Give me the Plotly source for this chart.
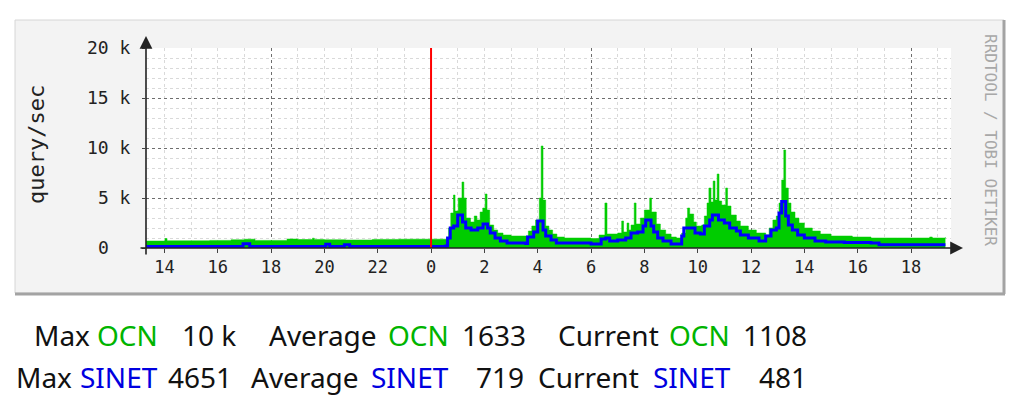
import plotly.graph_objects as go

# ---------------- data (hours relative to midnight; previous day negative) ----------------
ocn_hours = [-10.69, -9.98, -9.90, -8.30, -7.50, -7.00, -6.60, -5.40, -5.00, -4.45,
             -4.38, -4.00, -3.20, -2.20, -1.20, 0.00, 0.60, 0.66, 0.74, 0.84,
             0.90, 1.02, 1.16, 1.23, 1.32, 1.48, 1.62, 1.72, 1.84, 1.94,
             2.03, 2.10, 2.20, 2.35, 2.50, 2.70, 3.00, 3.55, 3.65, 3.78,
             3.92, 4.06, 4.13, 4.20, 4.30, 4.42, 4.56, 4.72, 5.00, 6.00,
             6.30, 6.52, 6.60, 7.00, 7.15, 7.22, 7.35, 7.42, 7.50, 7.62,
             7.69, 7.85, 8.00, 8.20, 8.27, 8.45, 8.60, 8.80, 9.00, 9.20,
             9.40, 9.55, 9.62, 9.70, 9.85, 9.95, 10.15, 10.25, 10.35, 10.42,
             10.50, 10.58, 10.65, 10.73, 10.80, 10.90, 11.05, 11.12, 11.25, 11.45,
             11.60, 11.90, 12.20, 12.55, 12.68, 12.82, 12.95, 13.05, 13.15, 13.23,
             13.30, 13.40, 13.50, 13.65, 13.80, 14.00, 14.30, 14.60, 15.00, 15.80,
             16.50, 17.50, 18.70, 18.80, 19.29]
ocn_qps = [700, 950, 720, 760, 820, 880, 760, 900, 850, 980,
           860, 820, 800, 860, 880, 880, 950, 2000, 3500, 5300,
           3700, 5000, 6600, 5000, 3000, 2600, 3200, 2800, 3600, 4000,
           5400, 3800, 2300, 1800, 1500, 1300, 1200, 1200, 1700, 2200,
           2800, 5000, 10200, 4800, 2200, 1800, 1400, 1100, 1000, 950,
           1300, 4500, 1400, 1500, 2700, 1600, 2500, 1800, 2300, 4500,
           2400, 3000, 3800, 5000, 3600, 2400, 1800, 1400, 1100, 1000,
           1500, 3000, 4000, 3400, 2600, 2200, 2300, 3200, 4500, 6000,
           4600, 6700, 4800, 7400, 4700, 4300, 6000, 4200, 3300, 2700,
           2200, 1800, 1500, 1300, 2000, 2800, 3200, 4500, 6800, 9800,
           6000, 4500, 3600, 3000, 2500, 2000, 1700, 1400, 1200, 1100,
           1000, 1000, 1100, 1000, 1100]

sinet_hours = [-10.69, -7.05, -6.80, -3.95, -3.80, -3.25, -3.05, 0.55, 0.62, 0.72,
               0.85, 1.00, 1.18, 1.30, 1.50, 1.75, 1.95, 2.12, 2.22, 2.40,
               2.60, 2.85, 3.55, 3.62, 3.85, 4.00, 4.20, 4.30, 4.50, 4.70,
               6.00, 6.38, 6.55, 6.70, 7.00, 7.30, 7.50, 7.75, 7.95, 8.05,
               8.25, 8.35, 8.50, 8.70, 9.00, 9.40, 9.48, 9.75, 9.90, 10.10,
               10.25, 10.45, 10.55, 10.78, 11.00, 11.20, 11.45, 11.60, 11.90, 12.30,
               12.55, 12.75, 12.95, 13.05, 13.15, 13.30, 13.40, 13.55, 13.75, 14.00,
               14.40, 14.80, 15.50, 16.50, 16.80, 19.29]
sinet_qps = [150, 420, 150, 380, 150, 320, 150, 200, 1000, 2000,
             2200, 3300, 2600, 2000, 1800, 2000, 2400, 2000, 1500, 1000,
             700, 500, 450, 1100, 1600, 2700, 1800, 1200, 800, 500,
             400, 900, 1000, 700, 800, 1000, 1500, 1600, 2200, 2800,
             2200, 1600, 1000, 700, 400, 1200, 2000, 2000, 1500, 1400,
             2200, 2800, 3300, 2800, 2500, 2000, 1700, 1300, 1000, 700,
             1200, 1800, 2000, 3500, 4650, 3200, 2300, 1800, 1300, 1000,
             700, 600, 550, 500, 330, 330]

x_tick_hours = [-10, -8, -6, -4, -2, 0, 2, 4, 6, 8, 10, 12, 14, 16, 18]
x_tick_labels = ["14", "16", "18", "20", "22", "0", "2", "4", "6", "8",
                 "10", "12", "14", "16", "18"]
y_tick_values = [0, 5000, 10000, 15000, 20000]
y_tick_labels = ["0\u00a0\u00a0", "5 k", "10 k", "15 k", "20 k"]
midnight_hour = 0

legend_rows = [
    [("Max", "OCN", "10 k"), ("Average", "OCN", "1633"), ("Current", "OCN", "1108")],
    [("Max", "SINET", "4651"), ("Average", "SINET", "719"), ("Current", "SINET", "481")],
]

# ---------------- geometry (page pixels) ----------------
W, H = 1034, 402
PAGE_OFF = 8          # the page body offsets the figure by this much
L, R, T, B = 146, 951, 48, 248
X_RANGE = [-10.69, 19.5]
Y_RANGE = [0, 20000]


def px(x):
    return (x - L) / (R - L)


def py(y):
    return (B - y) / (B - T)


GREEN = "#00CC00"
BLUE = "#0000FF"
TXT_GREEN = "#00B400"
TXT_BLUE = "#0000E0"
MONO = "DejaVu Sans Mono"

fig = go.Figure()
fig.add_trace(go.Scatter(
    x=ocn_hours, y=ocn_qps, mode="lines", line_shape="hv",
    line=dict(color=GREEN, width=0.5), fill="tozeroy", fillcolor=GREEN,
    hoverinfo="skip", name="OCN"))
fig.add_trace(go.Scatter(
    x=sinet_hours, y=sinet_qps, mode="lines", line_shape="hv",
    line=dict(color=BLUE, width=3), xaxis="x2", hoverinfo="skip", name="SINET"))

shapes = [
    # outer grey frame
    dict(type="rect", xref="paper", yref="paper", x0=px(15), x1=px(1004), y0=py(293), y1=py(20),
         fillcolor="#F3F3F3", line=dict(width=1, color="#D6D6D6"), layer="below"),
    dict(type="line", xref="paper", yref="paper", x0=px(1004), x1=px(1004), y0=py(294), y1=py(20),
         line=dict(width=3, color="#A3A3A3"), layer="below"),
    dict(type="line", xref="paper", yref="paper", x0=px(15), x1=px(1005), y0=py(294), y1=py(294),
         line=dict(width=3, color="#A3A3A3"), layer="below"),
    # white canvas
    dict(type="rect", xref="paper", yref="paper", x0=0, x1=1, y0=0, y1=1,
         fillcolor="#FFFFFF", line=dict(width=0), layer="below"),
    # midnight rule
    dict(type="line", xref="x", yref="y", x0=midnight_hour, x1=midnight_hour,
         y0=Y_RANGE[0], y1=Y_RANGE[1], line=dict(width=2, color="#FF0000")),
]

annotations = [
    # axes with arrow heads
    dict(x=px(146), y=py(36), xref="paper", yref="paper", ax=0, ay=256 - 36,
         showarrow=True, arrowhead=2, arrowsize=1.6, arrowwidth=1.6, arrowcolor="#222222", text=""),
    dict(x=px(963), y=py(248), xref="paper", yref="paper", ax=-(963 - 139), ay=0,
         showarrow=True, arrowhead=2, arrowsize=1.6, arrowwidth=1.6, arrowcolor="#222222", text=""),
    dict(x=px(36), y=py(145), xref="paper", yref="paper", text="query/sec", textangle=-90,
         showarrow=False, xanchor="center", yanchor="middle",
         font=dict(family=MONO, size=22, color="#222222")),
    dict(x=px(991), y=py(140), xref="paper", yref="paper", text="RRDTOOL / TOBI OETIKER",
         textangle=90, showarrow=False, xanchor="center", yanchor="middle",
         font=dict(family=MONO, size=16, color="#A8A8A8")),
]

# legend text rows (left edges of labels and names, right edges of numbers)
row_y = [334.5, 376.5]
label_left = [[33, 268, 557], [15, 250, 537]]
name_left = [[96, 387, 668], [79, 370, 652]]
value_right = [[237, 527, 808], [233, 525, 808]]
TFONT = "Noto Sans"
TSIZE = 28
for r, row in enumerate(legend_rows):
    ncol = TXT_GREEN if r == 0 else TXT_BLUE
    for c, (lab, name, val) in enumerate(row):
        annotations.append(dict(x=px(label_left[r][c]), y=py(row_y[r]), xref="paper", yref="paper",
                                text=lab, showarrow=False, xanchor="left", yanchor="middle",
                                borderpad=0, font=dict(family=TFONT, size=TSIZE, color="#111111")))
        annotations.append(dict(x=px(name_left[r][c]), y=py(row_y[r]), xref="paper", yref="paper",
                                text=name, showarrow=False, xanchor="left", yanchor="middle",
                                borderpad=0, font=dict(family=TFONT, size=TSIZE, color=ncol)))
        annotations.append(dict(x=px(value_right[r][c]), y=py(row_y[r]), xref="paper", yref="paper",
                                text=val, showarrow=False, xanchor="right", yanchor="middle",
                                borderpad=0, font=dict(family=TFONT, size=TSIZE, color="#111111")))

fig.update_layout(
    width=W, height=H, autosize=False,
    margin=dict(l=L - PAGE_OFF, r=W + PAGE_OFF - R, t=T - PAGE_OFF, b=H + PAGE_OFF - B, pad=0),
    paper_bgcolor="#FFFFFF", plot_bgcolor="#FFFFFF",
    showlegend=False,
    shapes=shapes, annotations=annotations,
    xaxis=dict(range=X_RANGE, tickmode="linear", tick0=0, dtick=6,
               showticklabels=False, ticks="", showline=False, zeroline=False,
               showgrid=True, gridcolor="#6E6E6E", griddash="dot", gridwidth=1,
               minor=dict(tickmode="linear", tick0=0, dtick=1, showgrid=True,
                          gridcolor="#D9D9D9", griddash="dot", gridwidth=1),
               fixedrange=True),
    xaxis2=dict(range=X_RANGE, overlaying="x", anchor="y", side="bottom",
                tickmode="array", tickvals=x_tick_hours, ticktext=x_tick_labels,
                ticks="outside", ticklen=4, tickwidth=1, tickcolor="#444444",
                showgrid=False, zeroline=False, showline=False,
                tickfont=dict(family=MONO, size=17, color="#222222"),
                fixedrange=True),
    yaxis=dict(range=Y_RANGE, tickmode="array", tickvals=y_tick_values, ticktext=y_tick_labels,
               ticks="outside", ticklen=3, tickcolor="#444444", ticklabelstandoff=8,
               showgrid=True, gridcolor="#6E6E6E", griddash="dot", gridwidth=1,
               minor=dict(tickmode="linear", tick0=0, dtick=1000, showgrid=True,
                          gridcolor="#D9D9D9", griddash="dot", gridwidth=1),
               zeroline=False, showline=False,
               tickfont=dict(family=MONO, size=18, color="#222222"),
               fixedrange=True),
)

fig.write_html("out.html")
